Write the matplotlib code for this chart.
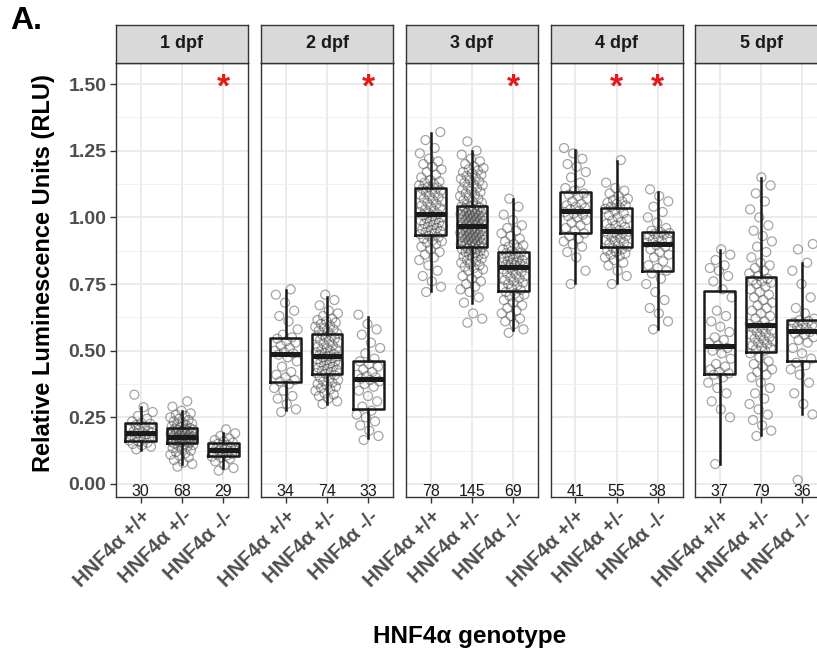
import matplotlib
matplotlib.use("Agg")
import matplotlib.pyplot as plt
import numpy as np

plt.rcParams['font.family'] = ['Liberation Sans', 'DejaVu Sans']

# ---------------- data ----------------
days = ["1 dpf", "2 dpf", "3 dpf", "4 dpf", "5 dpf"]
genotypes = ["HNF4\u03b1 +/+", "HNF4\u03b1 +/-", "HNF4\u03b1 -/-"]

d1_wt = [0.13, 0.14, 0.145, 0.15, 0.155, 0.16, 0.163, 0.168, 0.172, 0.176, 0.18, 0.183, 0.186, 0.19, 0.192,
         0.193, 0.197, 0.20, 0.205, 0.21, 0.215, 0.22, 0.226, 0.23, 0.235, 0.245, 0.255, 0.27, 0.288, 0.335]
d1_het = [0.065, 0.075, 0.08, 0.09, 0.10, 0.105, 0.11, 0.115, 0.12, 0.125, 0.13, 0.135, 0.14, 0.143, 0.146, 0.149, 0.151,
          0.154, 0.156, 0.158, 0.16, 0.161, 0.162, 0.163, 0.165, 0.166, 0.167, 0.168, 0.169, 0.17, 0.171, 0.172, 0.173, 0.174,
          0.176, 0.178, 0.18, 0.182, 0.184, 0.186, 0.188, 0.19, 0.192, 0.194, 0.196, 0.198, 0.2, 0.202, 0.204, 0.206, 0.208,
          0.21, 0.213, 0.216, 0.22, 0.223, 0.227, 0.23, 0.235, 0.24, 0.245, 0.25, 0.255, 0.26, 0.265, 0.275, 0.29, 0.31]
d1_ko = [0.05, 0.06, 0.07, 0.085, 0.095, 0.10, 0.103, 0.106, 0.11, 0.113, 0.116, 0.12, 0.123, 0.126, 0.128,
         0.13, 0.133, 0.136, 0.14, 0.143, 0.147, 0.151, 0.155, 0.16, 0.165, 0.17, 0.18, 0.19, 0.205]

d2_wt = [0.27, 0.28, 0.30, 0.32, 0.33, 0.35, 0.36, 0.375, 0.385, 0.39, 0.40, 0.41, 0.42, 0.44, 0.46, 0.475, 0.485,
         0.49, 0.495, 0.50, 0.51, 0.52, 0.53, 0.535, 0.545, 0.55, 0.56, 0.58, 0.61, 0.63, 0.65, 0.68, 0.71, 0.73]
d2_het = [0.30, 0.31, 0.32, 0.33, 0.335, 0.34, 0.35, 0.355, 0.36, 0.365, 0.37, 0.375, 0.38, 0.385, 0.39, 0.395, 0.40, 0.408,
          0.413, 0.416, 0.42, 0.424, 0.428, 0.432, 0.436, 0.44, 0.444, 0.448, 0.452, 0.456, 0.46, 0.464, 0.468, 0.472, 0.475,
          0.478, 0.48, 0.483, 0.487, 0.49, 0.494, 0.498, 0.502, 0.506, 0.51, 0.515, 0.52, 0.525, 0.53, 0.535, 0.54, 0.545,
          0.55, 0.553, 0.556, 0.56, 0.565, 0.57, 0.575, 0.58, 0.585, 0.59, 0.595, 0.60, 0.605, 0.61, 0.615, 0.62, 0.63,
          0.64, 0.65, 0.67, 0.69, 0.71]
d2_ko = [0.165, 0.18, 0.20, 0.22, 0.235, 0.25, 0.26, 0.275, 0.29, 0.31, 0.33, 0.35, 0.365, 0.375, 0.385, 0.39,
         0.395, 0.40, 0.405, 0.41, 0.42, 0.43, 0.44, 0.45, 0.46, 0.47, 0.49, 0.51, 0.53, 0.56, 0.58, 0.60, 0.635]

d3_wt = [0.72, 0.74, 0.76, 0.78, 0.80, 0.82, 0.84, 0.85, 0.86, 0.87, 0.88, 0.89, 0.90, 0.905, 0.91, 0.915, 0.92, 0.925, 0.93,
         0.937, 0.94, 0.944, 0.948, 0.952, 0.956, 0.96, 0.964, 0.968, 0.972, 0.976, 0.98, 0.984, 0.988, 0.992, 0.996, 1.0,
         1.004, 1.008, 1.012, 1.016, 1.02, 1.025, 1.03, 1.035, 1.04, 1.045, 1.05, 1.055, 1.06, 1.065, 1.07, 1.075, 1.08,
         1.085, 1.09, 1.095, 1.1, 1.104, 1.107, 1.112, 1.115, 1.12, 1.125, 1.13, 1.135, 1.14, 1.15, 1.16, 1.17, 1.18, 1.19,
         1.2, 1.21, 1.22, 1.24, 1.26, 1.29, 1.32]
d3_het = [0.605, 0.62, 0.64, 0.68, 0.70, 0.72, 0.73, 0.74, 0.75, 0.76, 0.77, 0.78, 0.79, 0.80, 0.805, 0.81, 0.815, 0.82,
          0.825, 0.83, 0.835, 0.84, 0.845, 0.85, 0.853, 0.856, 0.86, 0.863, 0.866, 0.87, 0.873, 0.876, 0.879, 0.882, 0.885,
          0.888, 0.892, 0.894, 0.896, 0.898, 0.90, 0.902, 0.904, 0.906, 0.908, 0.91, 0.912, 0.914, 0.916, 0.918, 0.92,
          0.922, 0.924, 0.926, 0.928, 0.93, 0.932, 0.934, 0.936, 0.938, 0.94, 0.942, 0.944, 0.946, 0.948, 0.95, 0.952,
          0.954, 0.956, 0.958, 0.96, 0.963, 0.966, 0.969, 0.971, 0.973, 0.975, 0.977, 0.979, 0.981, 0.983, 0.985, 0.987,
          0.989, 0.991, 0.993, 0.995, 0.997, 0.999, 1.001, 1.003, 1.005, 1.007, 1.009, 1.011, 1.013, 1.015, 1.017, 1.019,
          1.021, 1.023, 1.025, 1.027, 1.029, 1.031, 1.034, 1.037, 1.039, 1.041, 1.045, 1.05, 1.055, 1.06, 1.065, 1.07,
          1.075, 1.08, 1.085, 1.09, 1.095, 1.10, 1.105, 1.11, 1.115, 1.12, 1.125, 1.13, 1.135, 1.14, 1.145, 1.15, 1.155,
          1.16, 1.165, 1.17, 1.175, 1.18, 1.185, 1.19, 1.20, 1.21, 1.22, 1.235, 1.25, 1.285]
d3_ko = [0.567, 0.58, 0.60, 0.61, 0.62, 0.63, 0.64, 0.65, 0.66, 0.67, 0.68, 0.69, 0.70, 0.705, 0.71, 0.715, 0.72,
         0.728, 0.735, 0.74, 0.745, 0.75, 0.755, 0.76, 0.765, 0.77, 0.775, 0.78, 0.785, 0.79, 0.795, 0.80, 0.805, 0.808,
         0.812, 0.816, 0.819, 0.822, 0.825, 0.828, 0.831, 0.834, 0.837, 0.84, 0.843, 0.846, 0.85, 0.854, 0.858, 0.862,
         0.866, 0.869, 0.875, 0.88, 0.885, 0.89, 0.895, 0.90, 0.91, 0.92, 0.93, 0.94, 0.95, 0.96, 0.97, 0.99, 1.01, 1.04, 1.07]

d4_wt = [0.75, 0.80, 0.85, 0.87, 0.89, 0.90, 0.91, 0.92, 0.93, 0.94, 0.95, 0.96, 0.97, 0.98, 0.99, 1.0, 1.005, 1.01,
         1.015, 1.02, 1.025, 1.03, 1.035, 1.04, 1.045, 1.05, 1.06, 1.07, 1.08, 1.085, 1.09, 1.10, 1.11, 1.13, 1.15, 1.17,
         1.19, 1.20, 1.22, 1.24, 1.26]
d4_het = [0.75, 0.78, 0.80, 0.82, 0.83, 0.84, 0.85, 0.855, 0.86, 0.865, 0.87, 0.875, 0.88, 0.885, 0.89, 0.895, 0.90,
          0.905, 0.91, 0.915, 0.92, 0.925, 0.93, 0.935, 0.938, 0.941, 0.944, 0.947, 0.952, 0.958, 0.964, 0.97, 0.976,
          0.982, 0.988, 0.994, 1.0, 1.008, 1.016, 1.024, 1.032, 1.037, 1.04, 1.045, 1.05, 1.055, 1.06, 1.065, 1.07, 1.08,
          1.09, 1.10, 1.11, 1.13, 1.215]
d4_ko = [0.58, 0.61, 0.64, 0.66, 0.69, 0.72, 0.75, 0.77, 0.79, 0.80, 0.81, 0.82, 0.835, 0.85, 0.86, 0.87, 0.88, 0.89,
         0.895, 0.905, 0.91, 0.915, 0.92, 0.925, 0.93, 0.935, 0.938, 0.941, 0.945, 0.95, 0.96, 0.98, 1.0, 1.02, 1.04,
         1.06, 1.08, 1.105]

d5_wt = [0.075, 0.25, 0.28, 0.31, 0.34, 0.36, 0.38, 0.40, 0.41, 0.415, 0.42, 0.43, 0.44, 0.45, 0.47, 0.49, 0.50, 0.51,
         0.52, 0.53, 0.54, 0.55, 0.57, 0.59, 0.61, 0.63, 0.65, 0.70, 0.73, 0.76, 0.78, 0.80, 0.81, 0.82, 0.84, 0.86, 0.88]
d5_het = [0.18, 0.20, 0.22, 0.24, 0.26, 0.28, 0.30, 0.32, 0.34, 0.36, 0.38, 0.40, 0.41, 0.42, 0.43, 0.44, 0.45, 0.46,
          0.475, 0.49, 0.50, 0.505, 0.51, 0.515, 0.52, 0.525, 0.53, 0.535, 0.54, 0.545, 0.55, 0.555, 0.56, 0.565, 0.57,
          0.575, 0.58, 0.585, 0.59, 0.594, 0.60, 0.61, 0.62, 0.63, 0.64, 0.65, 0.66, 0.67, 0.68, 0.69, 0.70, 0.71, 0.72,
          0.73, 0.74, 0.75, 0.755, 0.76, 0.765, 0.77, 0.78, 0.79, 0.80, 0.81, 0.82, 0.83, 0.85, 0.87, 0.89, 0.91, 0.93,
          0.95, 0.97, 1.0, 1.03, 1.06, 1.09, 1.12, 1.15]
d5_ko = [0.015, 0.261, 0.30, 0.34, 0.38, 0.41, 0.43, 0.445, 0.455, 0.47, 0.49, 0.51, 0.53, 0.54, 0.55, 0.56, 0.565, 0.57,
         0.578, 0.582, 0.586, 0.59, 0.595, 0.60, 0.605, 0.61, 0.614, 0.62, 0.64, 0.66, 0.70, 0.75, 0.80, 0.83, 0.88, 0.90]

values = [[d1_wt, d1_het, d1_ko], [d2_wt, d2_het, d2_ko], [d3_wt, d3_het, d3_ko],
          [d4_wt, d4_het, d4_ko], [d5_wt, d5_het, d5_ko]]

# box statistics (per day: +/+, +/-, -/-)
box_q1 = [[0.162, 0.153, 0.105], [0.381, 0.411, 0.281], [0.935, 0.890, 0.724], [0.9425, 0.8875, 0.799], [0.4125, 0.495, 0.461]]
box_med = [[0.192, 0.175, 0.128], [0.489, 0.481, 0.394], [1.014, 0.9675, 0.814], [1.024, 0.949, 0.901], [0.5175, 0.596, 0.575]]
box_q3 = [[0.230, 0.209, 0.155], [0.546, 0.561, 0.4625], [1.109, 1.0425, 0.871], [1.094, 1.034, 0.946], [0.724, 0.775, 0.615]]
whisk_lo = [[0.128, 0.075, 0.059], [0.2775, 0.299, 0.171], [0.725, 0.680, 0.5775], [0.7525, 0.7525, 0.5825], [0.075, 0.184, 0.261]]
whisk_hi = [[0.288, 0.275, 0.190], [0.7275, 0.7025, 0.6275], [1.315, 1.249, 1.0675], [1.2525, 1.211, 1.094], [0.8775, 1.146, 0.83]]

counts = [[30, 68, 29], [34, 74, 33], [78, 145, 69], [41, 55, 38], [37, 79, 36]]
signif = [[False, False, True], [False, False, True], [False, False, True], [False, True, True], [False, False, False]]

# ---------------- layout ----------------
W, H = 817, 655
fig = plt.figure(figsize=(W / 100, H / 100), dpi=100)
fig.patch.set_facecolor('white')

panel_left = [116, 261, 406, 550.5, 695]
panel_w = 132
panel_top, panel_bot = 63, 497
strip_top = 25

y_lo, y_hi = -0.0488, 1.579
dark = '#1a1a1a'
border = '#333333'

for i, day in enumerate(days):
    L = panel_left[i]
    ax = fig.add_axes([L / W, 1 - panel_bot / H, panel_w / W, (panel_bot - panel_top) / H])
    ax.set_xlim(0.4, 3.6)
    ax.set_ylim(y_lo, y_hi)
    ax.set_facecolor('white')

    # grid
    ax.set_yticks([0, 0.25, 0.5, 0.75, 1.0, 1.25, 1.5])
    ax.set_yticks([0.125, 0.375, 0.625, 0.875, 1.125, 1.375], minor=True)
    ax.set_xticks([1, 2, 3])
    ax.grid(True, which='major', color='#E6E6E6', lw=1.1, zorder=0)
    ax.grid(True, which='minor', axis='y', color='#F0F0F0', lw=0.7, zorder=0)
    ax.set_axisbelow(True)

    for s in ax.spines.values():
        s.set_color(border)
        s.set_linewidth(1.0)

    # jittered points
    for g in range(3):
        vals = np.array(values[i][g])
        n = len(vals)
        offs = ((np.arange(n) * 0.6180339887 + 0.31) % 1.0 - 0.5) * 0.58
        ax.scatter(g + 1 + offs, vals, s=42, facecolors='none',
                   edgecolors=(0.3, 0.3, 0.3, 0.5), linewidths=0.9, zorder=2)

    # boxes
    stats = []
    for g in range(3):
        stats.append(dict(med=box_med[i][g], q1=box_q1[i][g], q3=box_q3[i][g],
                          whislo=whisk_lo[i][g], whishi=whisk_hi[i][g], fliers=[]))
    ax.bxp(stats, positions=[1, 2, 3], widths=0.75, showfliers=False, showcaps=False,
           boxprops=dict(color=dark, lw=1.8),
           whiskerprops=dict(color=dark, lw=1.8),
           medianprops=dict(color=dark, lw=3.6, solid_capstyle='butt'),
           manage_ticks=False, zorder=3)

    # counts and significance marks
    for g in range(3):
        ax.text(g + 1, -0.027, str(counts[i][g]), ha='center', va='center',
                fontsize=11.5, color=dark, zorder=4)
        if signif[i][g]:
            ax.text(g + 1, 1.50, '*', ha='center', va='center_baseline',
                    fontsize=24, fontweight='bold', color='#E31A1C', zorder=4)

    ax.set_xticks([1, 2, 3])
    ax.set_xticklabels(genotypes, rotation=45, ha='right', rotation_mode='anchor',
                       fontsize=14.5, fontweight='bold', color='#4D4D4D')
    ax.tick_params(axis='x', which='major', length=4, width=1.0, color=border, pad=3)
    ax.tick_params(axis='y', which='minor', length=0)
    if i == 0:
        ax.set_yticklabels(['0.00', '0.25', '0.50', '0.75', '1.00', '1.25', '1.50'],
                           fontsize=14, fontweight='bold', color='#4D4D4D')
        ax.tick_params(axis='y', which='major', length=4, width=1.0, color=border, pad=3)
    else:
        ax.tick_params(axis='y', which='major', length=0, labelleft=False)

    # strip
    sax = fig.add_axes([L / W, 1 - panel_top / H, panel_w / W, (panel_top - strip_top) / H])
    sax.set_facecolor('#D9D9D9')
    sax.set_xticks([])
    sax.set_yticks([])
    for s in sax.spines.values():
        s.set_color(border)
        s.set_linewidth(1.0)
    sax.text(0.5, 0.5, day, ha='center', va='center', fontsize=13,
             fontweight='bold', color=dark, transform=sax.transAxes)

fig.text(44 / W, 1 - 273 / H, 'Relative Luminescence Units (RLU)', rotation=90,
         ha='center', va='center', fontsize=17, fontweight='bold', color='black')
fig.text(470 / W, 1 - 636 / H, 'HNF4\u03b1 genotype', ha='center', va='center',
         fontsize=17.5, fontweight='bold', color='black')
fig.text(10 / W, 1 - 21 / H, 'A.', ha='left', va='center', fontsize=23,
         fontweight='bold', color='black')

fig.savefig('out.png', dpi=100)
